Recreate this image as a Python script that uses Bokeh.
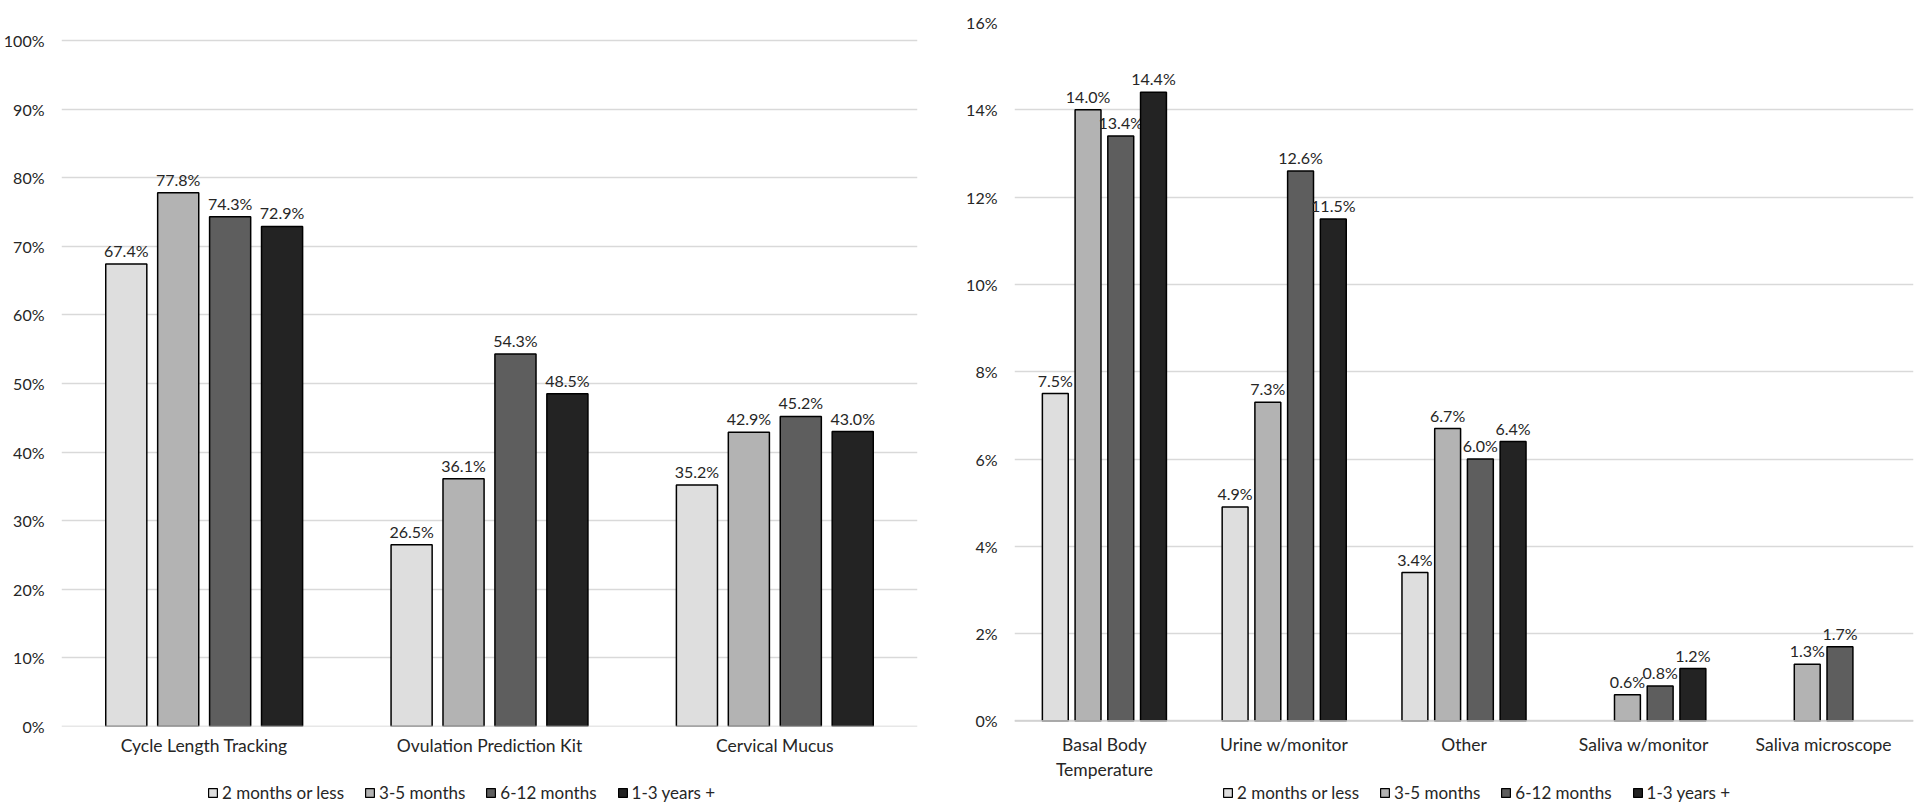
from bokeh.plotting import figure
from bokeh.models import (ColumnDataSource, FactorRange, Range1d, Legend, LegendItem, Span,
                          SingleIntervalTicker, PrintfTickFormatter)
from bokeh.transform import dodge
from bokeh.layouts import row, column
from bokeh.embed import file_html
from bokeh.resources import INLINE
from bokeh.core.properties import value

# ---------------- data ----------------
series_names = ["2 months or less", "3-5 months", "6-12 months", "1-3 years +"]
series_colors = ["#DEDEDE", "#B3B3B3", "#5E5E5E", "#232323"]

left_categories = ["Cycle Length Tracking", "Ovulation Prediction Kit", "Cervical Mucus"]
left_2m = [67.4, 26.5, 35.2]
left_3_5m = [77.8, 36.1, 42.9]
left_6_12m = [74.3, 54.3, 45.2]
left_1_3y = [72.9, 48.5, 43.0]

right_categories = ["Basal Body\nTemperature", "Urine w/monitor", "Other",
                    "Saliva w/monitor", "Saliva microscope"]
right_2m = [7.5, 4.9, 3.4, None, None]
right_3_5m = [14.0, 7.3, 6.7, 0.6, 1.3]
right_6_12m = [13.4, 12.6, 6.0, 0.8, 1.7]
right_1_3y = [14.4, 11.5, 6.4, 1.2, None]

FONT = "Lato"
TXT = "#262626"
GRID = "#D9D9D9"
AXIS = "#CFCFCF"
offsets = [-0.273, -0.091, 0.091, 0.273]
BAR_W = 0.144
H = 783
TOP = 22
BOTTOM = 57


def sources(cats, series):
    out = []
    for vals in series:
        xs = [c for c, v in zip(cats, vals) if v is not None]
        ys = [v for v in vals if v is not None]
        out.append(ColumnDataSource(dict(x=xs, y=ys, lab=[f"{v:.1f}%" for v in ys])))
    return out


def make_chart(cats, srcs, yrange, interval, width, bl, br, standoff):
    p = figure(x_range=FactorRange(*cats), y_range=yrange, width=width, height=H,
               output_backend="svg", toolbar_location=None,
               min_border_left=bl, min_border_right=br, min_border_top=TOP,
               min_border_bottom=BOTTOM)
    p.outline_line_color = None
    p.xgrid.grid_line_color = None
    p.ygrid.grid_line_color = GRID
    p.ygrid.grid_line_width = 1.5
    p.yaxis.ticker = SingleIntervalTicker(interval=interval)
    p.yaxis.formatter = PrintfTickFormatter(format="%d%%")
    for ax in (p.xaxis, p.yaxis):
        ax.axis_line_color = None
        ax.major_tick_line_color = None
        ax.minor_tick_line_color = None
        ax.major_tick_out = 0
        ax.major_tick_in = 0
        ax.minor_tick_out = 0
        ax.major_label_text_font = FONT
        ax.major_label_text_color = TXT
    p.yaxis.major_label_standoff = 17
    p.xaxis.major_label_standoff = standoff
    p.yaxis.major_label_text_font_size = "16px"
    p.xaxis.major_label_text_font_size = "17.5px"
    p.add_layout(Span(location=0, dimension="width", line_color=AXIS, line_width=1.5))

    for i, src in enumerate(srcs):
        p.vbar(x=dodge("x", offsets[i], range=p.x_range), top="y", width=BAR_W,
               source=src, fill_color=series_colors[i], line_color="#000000",
               line_width=1.5)
        p.text(x=dodge("x", offsets[i], range=p.x_range), y="y", text="lab", source=src,
               text_font=value(FONT), text_font_size="16px", text_color=TXT,
               text_align="center", text_baseline="bottom", y_offset=-4)
    return p


def make_legend(cats, srcs, width, bl, br, x):
    lf = figure(x_range=FactorRange(*cats), y_range=Range1d(0, 1), width=width, height=20,
                output_backend="svg", toolbar_location=None,
                x_axis_type=None, y_axis_type=None, min_border_left=bl,
                min_border_right=br, min_border_top=0, min_border_bottom=0)
    lf.outline_line_color = None
    lf.xgrid.grid_line_color = None
    lf.ygrid.grid_line_color = None
    items = []
    for name, col, src in zip(series_names, series_colors, srcs):
        r = lf.vbar(x="x", top="y", width=BAR_W, source=src, fill_color=col,
                    line_color="#000000", line_width=1.2, visible=False)
        items.append(LegendItem(label=name, renderers=[r]))
    leg = Legend(items=items, orientation="horizontal", location=(x, 0),
                 glyph_width=11, glyph_height=11, label_standoff=4, spacing=20,
                 padding=0, margin=0, border_line_color=None,
                 background_fill_alpha=0, inactive_fill_alpha=0,
                 label_text_font=FONT, label_text_font_size="17px",
                 label_text_color=TXT, label_height=20)
    lf.add_layout(leg, "center")
    return lf


left_srcs = sources(left_categories, [left_2m, left_3_5m, left_6_12m, left_1_3y])
right_srcs = sources(right_categories, [right_2m, right_3_5m, right_6_12m, right_1_3y])

# left: 100% sits 18px below the frame top; right: 0% sits 5.5px above the frame bottom
p1 = make_chart(left_categories, left_srcs, (0, 102.62), 10, 960, 60, 43, 8)
p2 = make_chart(right_categories, right_srcs, (-0.126, 16.0), 2, 960, 54, 7, 7)

l1 = make_legend(left_categories, left_srcs, 960, 60, 43, 147)
l2 = make_legend(right_categories, right_srcs, 960, 54, 7, 208)

layout = column(row(p1, p2), row(l1, l2))
open("out.html", "w").write(file_html(layout, INLINE))
